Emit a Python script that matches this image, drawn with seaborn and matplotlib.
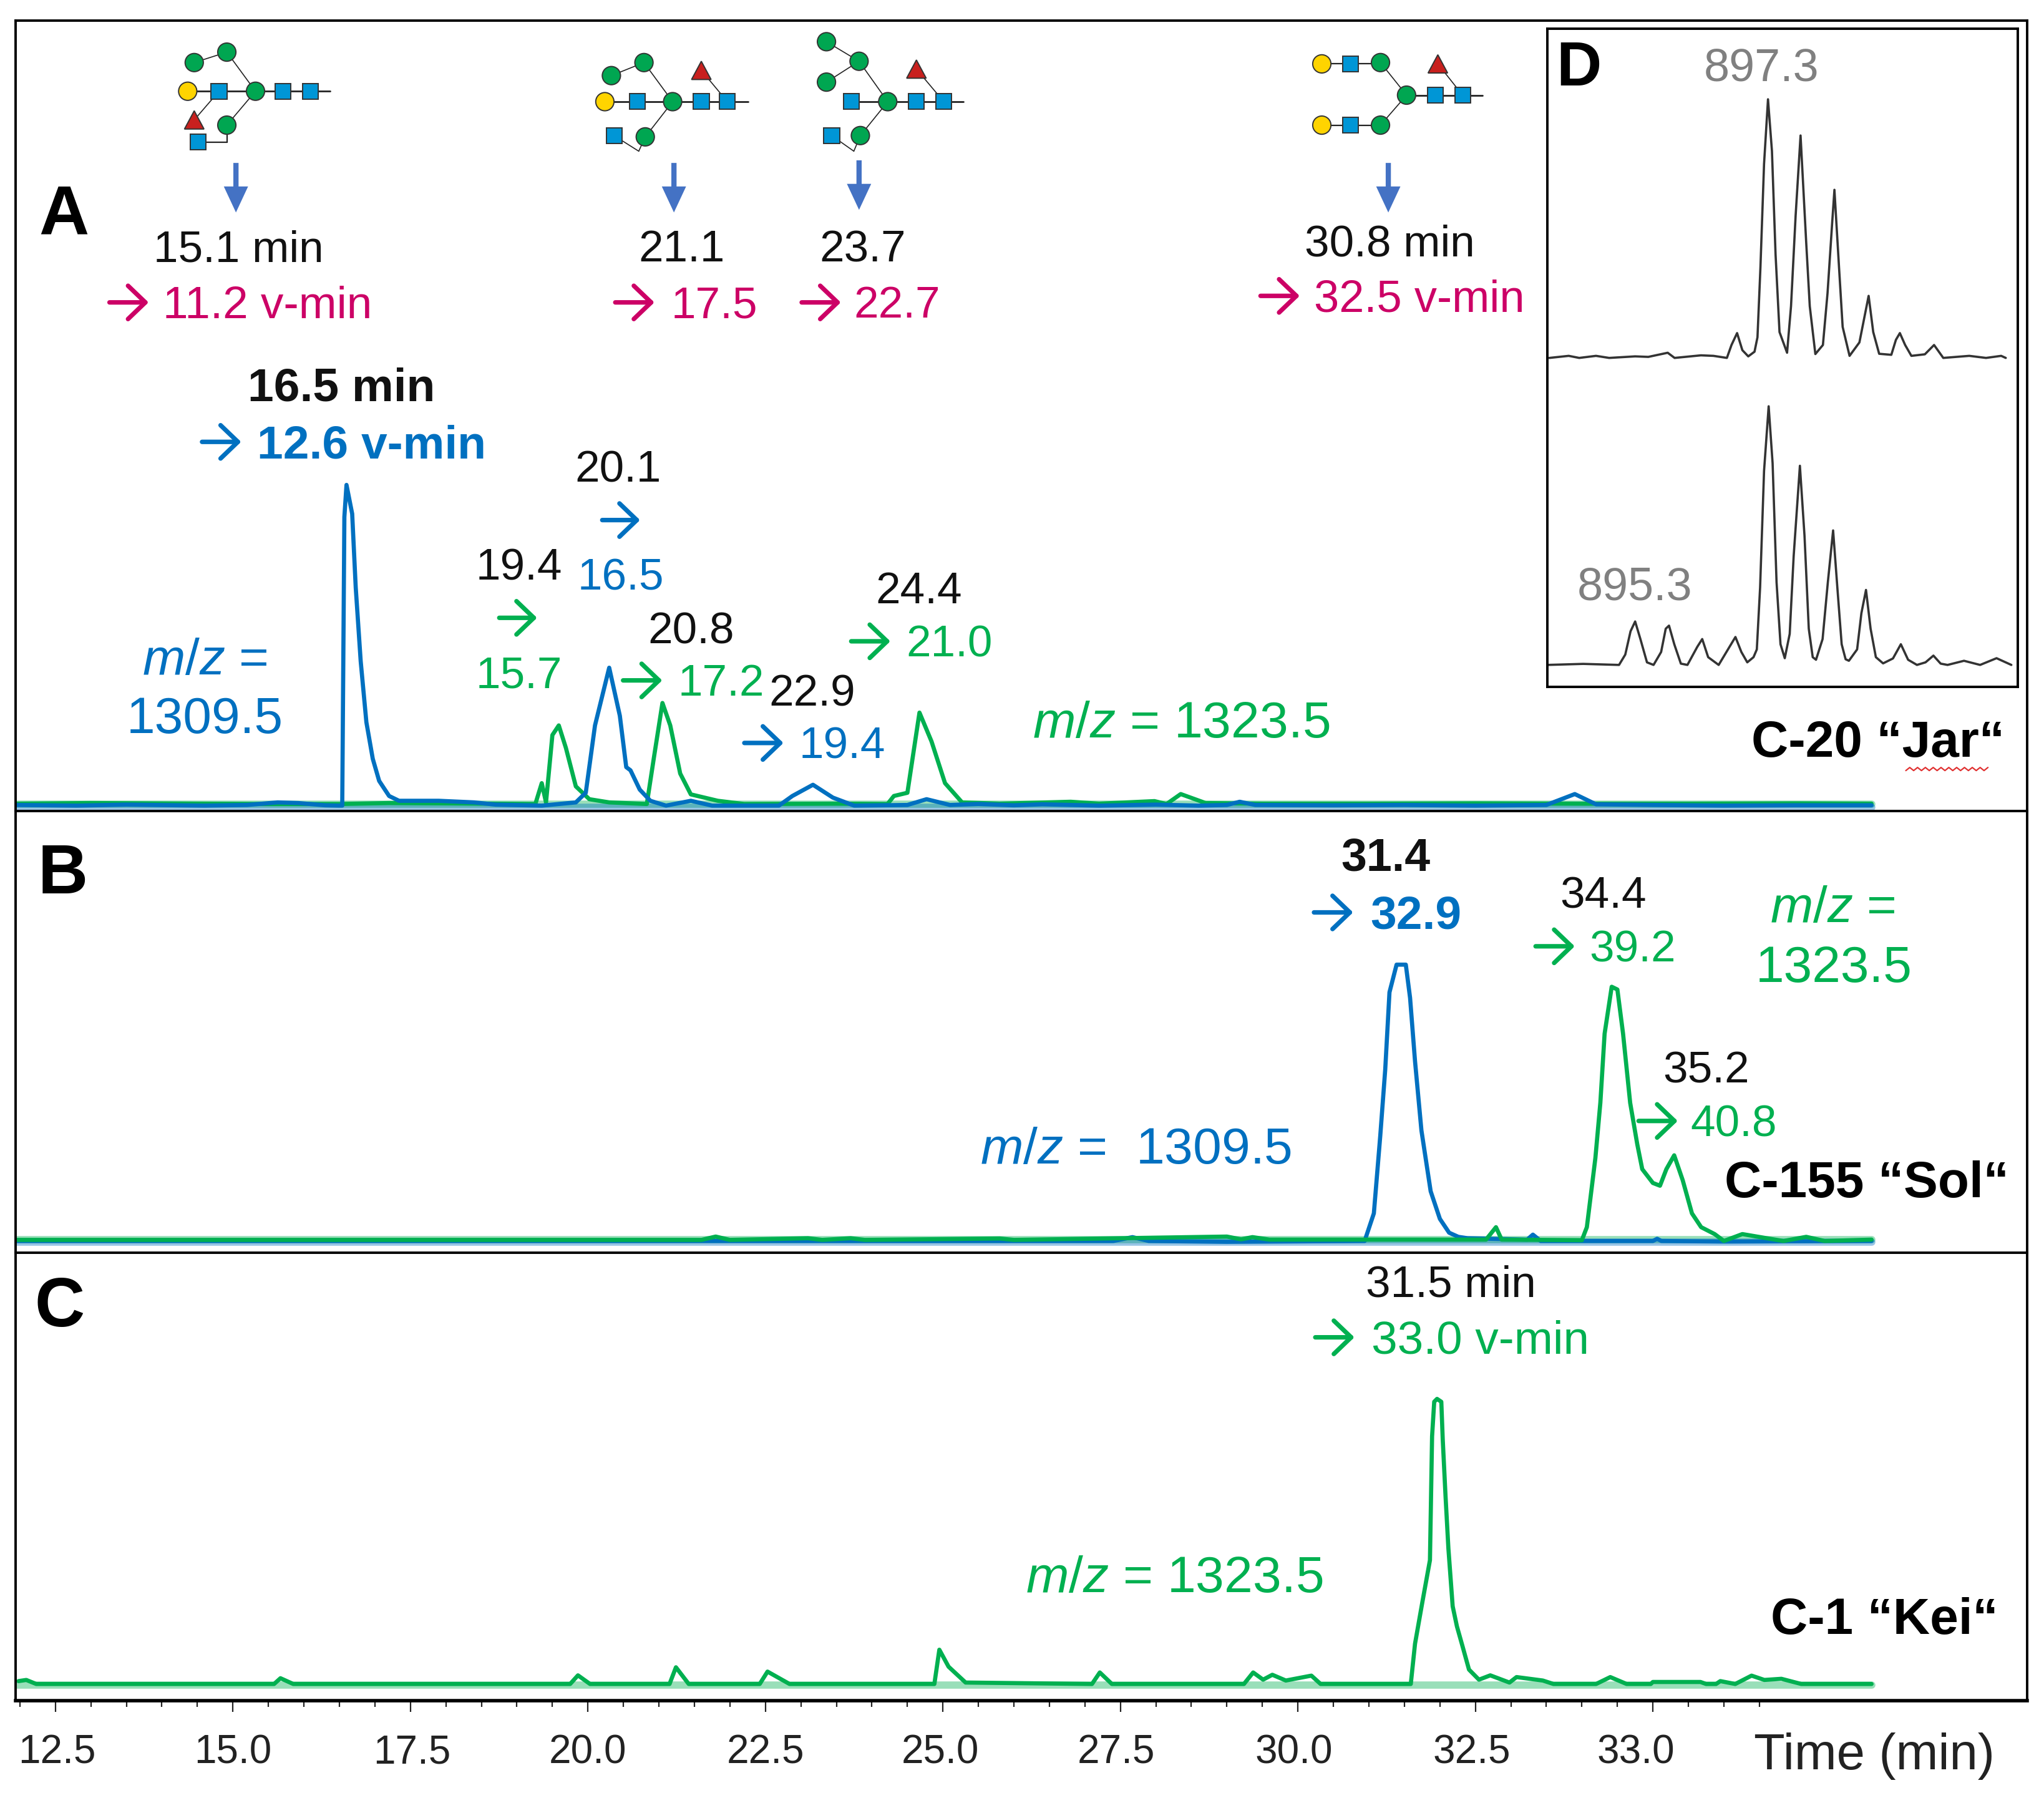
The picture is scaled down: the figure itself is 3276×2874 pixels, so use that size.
import numpy as np
import matplotlib
matplotlib.use("Agg")
import matplotlib.pyplot as plt
from matplotlib.patches import Circle, Rectangle, Polygon
from matplotlib.lines import Line2D
from matplotlib.transforms import ScaledTranslation
import seaborn as sns

# ---------- data ----------
a_blue_t = [11.95,12.8,13.5,14.6,15.2,15.63,15.92,16.3,16.49,16.54,16.57,16.6,16.68,16.73,16.8,16.88,16.97,17.06,17.2,17.34,17.9,18.4,18.7,19.35,19.83,19.97,20.1,20.3,20.45,20.54,20.6,20.73,20.88,21.1,21.45,21.75,22.69,22.88,23.17,23.45,23.75,24.5,24.77,25.1,25.5,26.0,26.4,27.2,28.0,28.6,29.0,29.18,29.4,30.5,31.5,32.5,33.5,33.9,34.2,35.0,36.0,37.0,38.08]
a_blue_y = [0.2,0.0,0.3,0.0,0.2,1.0,0.8,0.1,0.0,0.0,90,100,91,68,45,26,14.6,7.7,3,1.5,1.5,1.0,0.3,0.0,1.0,4,25,43,28,12,11,5,1.5,0.0,1.5,0.0,0.0,3,6.5,2.5,0.0,0.2,2,0.2,0.5,0.1,0.4,0.0,0.3,0.0,0.2,1.2,0.2,0.1,0.2,0.0,0.2,3.6,0.4,0.2,0.0,0.1,0.1]
a_green_t = [11.95,13.0,14.5,15.5,16.5,17.2,18.0,19.26,19.35,19.41,19.5,19.59,19.69,19.83,20.02,20.3,20.83,20.93,21.05,21.16,21.3,21.45,21.83,22.2,23.5,24.22,24.31,24.5,24.67,24.84,25.03,25.27,25.8,26.8,27.2,27.98,28.15,28.35,28.7,29.5,31.0,32.5,34.0,35.5,37.0,38.08]
a_green_y = [0.6,0.8,0.6,0.5,0.5,0.8,0.7,0.5,7,1,22,25,18,6,2,1,0.5,15,32,25,10,3.5,1.5,0.5,0.6,0.5,3,4,29,20,7,1,0.6,1.2,0.6,1.4,0.5,3.6,0.8,0.6,0.6,0.7,0.6,0.6,0.7,0.6]
b_blue_t = [11.95,16.0,20.0,24.0,27.4,27.67,27.9,29.0,30.94,31.07,31.16,31.23,31.29,31.39,31.52,31.58,31.65,31.74,31.87,32.0,32.13,32.26,32.39,33.23,33.31,33.42,35.0,35.06,35.12,36.0,38.08]
b_blue_y = [0.0,0.0,0.0,0.0,0.0,1.4,0.0,-0.3,0.0,10,38,62,90,100,100,88,65,40,18,8,3,1.5,1,0.5,2.3,0.0,0.0,0.8,0.0,-0.2,0.0]
b_green_t = [11.95,16.0,21.6,21.8,22.0,23.1,23.3,23.7,23.9,25.8,26.0,29.0,29.2,29.36,29.6,30.5,32.65,32.79,32.87,34.0,34.07,34.19,34.26,34.32,34.42,34.5,34.58,34.68,34.78,34.85,35.0,35.1,35.19,35.3,35.42,35.55,35.68,35.87,36.0,36.26,36.65,36.84,37.16,37.42,38.08]
b_green_y = [0.4,0.4,0.4,1.6,0.4,1.0,0.4,1.0,0.4,0.9,0.4,1.6,0.6,1.4,0.5,0.5,0.5,5,0.5,0.3,5,30,50,75,92,91,75,50,35,26,21,20,26,31,22,10,5,2.5,0,2.5,0.8,0,1.5,0,0.5]
c_green_t = [11.98,12.09,12.23,15.58,15.67,15.85,19.75,19.86,20.03,21.15,21.24,21.42,22.42,22.53,22.84,24.88,24.95,25.08,25.32,27.1,27.21,27.38,29.24,29.37,29.51,29.64,29.83,30.19,30.32,31.59,31.65,31.75,31.86,31.89,31.92,31.96,32.02,32.04,32.08,32.12,32.18,32.24,32.32,32.41,32.55,32.71,32.98,33.08,33.45,33.6,34.2,34.4,34.63,34.97,35.0,35.67,35.75,35.89,35.95,36.16,36.39,36.57,36.81,37.09,38.08]
c_green_y = [1.0,1.4,0.0,0.0,2.0,0.0,0.0,3,0.0,0.0,5.8,0.0,0.0,4.3,0.0,0.0,11.9,6,0.5,0.0,4,0.0,0.0,4,1.5,3.2,1.2,2.9,0.0,0.0,14,28,43,86,98,99,98,85,65,47,27,20,13,5,1.5,3,0.5,2.4,1.2,0,0,2.4,0,0,0.7,0.7,0,0,1.0,0,2.9,1.4,1.8,0,0]
d_top_mz = [890.69,891.28,891.6,892.11,892.51,893.30,893.7,894.29,894.5,895.3,895.68,896.09,896.23,896.4,896.56,896.74,896.93,897.02,897.11,897.22,897.34,897.46,897.57,897.69,897.92,898.04,898.18,898.33,898.5,898.61,898.78,899.01,899.15,899.29,899.36,899.5,899.61,899.82,900.12,900.26,900.4,900.54,900.72,901.09,901.23,901.35,901.51,901.7,902.11,902.39,902.67,903.46,903.97,904.43,904.57]
d_top_y = [0,0.8,0,0.8,0,0.6,0.4,2,0,1,0.8,0,5,9.6,3,0.6,2.4,8,35,75,100,80,40,10,2,20,55,86,45,20,1.5,5,25,52,65,35,12,0.8,6,15,24,10,1.6,1.2,7,9.6,5,0.8,1.4,5,0,0.8,0,0.8,0]
d_bot_mz = [890.63,891.72,892.81,893.0,893.16,893.3,893.46,893.66,893.86,894.09,894.23,894.33,894.49,894.69,894.89,895.19,895.34,895.52,895.84,896.17,896.35,896.53,896.71,896.9,897.0,897.1,897.22,897.36,897.48,897.6,897.72,897.85,898.0,898.12,898.31,898.45,898.58,898.7,898.8,899.0,899.16,899.32,899.46,899.58,899.7,899.8,900.05,900.18,900.32,900.46,900.62,900.84,901.14,901.38,901.6,901.87,902.13,902.37,902.59,902.8,903.3,903.79,904.29,904.74]
d_bot_y = [0,0.4,0,4,13,16.8,10,1,0,5,14,15.2,8,0.5,0,7,10,3,0,7,10.8,5,1,3,6,30,75,100,78,32,8,2.6,12,42,77,50,14,3,2,10,32,52,28,8,2.2,1.6,6,20,29,14,3,0.6,2.5,8,2,0,1,3.6,0.5,0,1.6,0,2.6,0]
band_t = [11.95, 38.08]
major_ticks = [12.5,15.0,17.5,20.0,22.5,25.0,27.5,30.0,32.5,35.0]
tick_labels = ["12.5","15.0","17.5","20.0","22.5","25.0","27.5","30.0","32.5","33.0"]
minor_ticks = [12.0,13.0,13.5,14.0,14.5,15.5,16.0,16.5,17.0,18.0,18.5,19.0,19.5,20.5,21.0,21.5,22.0,23.0,23.5,24.0,24.5,25.5,26.0,26.5,27.0,28.0,28.5,29.0,29.5,30.5,31.0,31.5,32.0,33.0,33.5,34.0,34.5,35.5,36.0,36.5]

# ---------- style ----------
sns.set_theme(style="white")
plt.rcParams["font.family"] = ["Liberation Sans", "DejaVu Sans"]
plt.rcParams.update({"mathtext.fontset": "custom", "mathtext.it": "Liberation Sans:italic",
                     "mathtext.rm": "Liberation Sans", "mathtext.bf": "Liberation Sans:bold",
                     "mathtext.default": "regular"})
BLUE, GREEN, MAG, BLACK = "#0070C0", "#00B050", "#CC0066", "#111111"
W, H = 1568.0, 1375.6
fig = plt.figure(figsize=(16.38, 14.37), dpi=200, facecolor="white")

def box(l, t, r, b):
    return [l / W, 1 - b / H, (r - l) / W, (b - t) / H]

xlim = (11.94, 40.27)
axA = fig.add_axes(box(12, 16, 1555, 622))
axB = fig.add_axes(box(12, 622, 1555, 961))
axC = fig.add_axes(box(12, 961, 1555, 1305))
LW = 2.4

def trace(ax, t, y, c):
    sns.lineplot(x=t, y=y, ax=ax, color=c, lw=LW, estimator=None)

def band(ax, level, c):
    sns.lineplot(x=band_t, y=[level, level], ax=ax, color=c, lw=4.2, alpha=0.4, estimator=None)

band(axA, 0.5, GREEN); band(axA, -0.5, BLUE)
band(axB, 0.4, GREEN); band(axB, -0.4, BLUE)
band(axC, -0.3, GREEN)
trace(axA, a_green_t, a_green_y, GREEN)
trace(axA, a_blue_t, a_blue_y, BLUE)
trace(axB, b_blue_t, b_blue_y, BLUE)
trace(axB, b_green_t, b_green_y, GREEN)
trace(axC, c_green_t, c_green_y, GREEN)
axA.set_ylim(-1.6, 244.7)
axB.set_ylim(-4.2, 155.7)
axC.set_ylim(-5.9, 149.8)
for ax in (axA, axB, axC):
    ax.set_xlim(*xlim)
    ax.set_yticks([])
    ax.set_ylabel("")
    for s in ax.spines.values():
        s.set_visible(True)
        s.set_color("black")
        s.set_linewidth(1.4)
    if ax is not axC:
        ax.set_xticks([])
axC.spines["bottom"].set_linewidth(2.0)
axC.set_xticks(major_ticks)
axC.set_xticklabels(tick_labels, fontsize=23, color="#222222")
axC.set_xticks(minor_ticks, minor=True)
axC.tick_params(axis="x", which="major", length=6.6, width=0.8, bottom=True, pad=12.5, color="#222222")
axC.tick_params(axis="x", which="minor", length=3.6, width=0.8, bottom=True, color="#222222")
for lab, dx in zip(axC.get_xticklabels(), [1, 0, 1, 0, 0, -2, -3, -3, -3, -13]):
    lab.set_transform(lab.get_transform() + ScaledTranslation(dx * 0.752 / 72, 0, fig.dpi_scale_trans))

# inset D
axD = fig.add_axes(box(1187, 22, 1548, 527), zorder=3)
TOP_OFFSET = 118.7
sns.lineplot(x=d_top_mz, y=[v + TOP_OFFSET for v in d_top_y], ax=axD, color="#333333", lw=1.3, estimator=None)
sns.lineplot(x=d_bot_mz, y=d_bot_y, ax=axD, color="#333333", lw=1.3, estimator=None)
axD.set_xlim(890.63, 904.94)
axD.set_ylim(-8.5, 246)
axD.set_xticks([]); axD.set_yticks([])
for s in axD.spines.values():
    s.set_visible(True); s.set_color("black"); s.set_linewidth(1.4)

# ---------- overlay in picture coordinates ----------
ov = fig.add_axes([0, 0, 1, 1], zorder=5)
ov.set_xlim(0, W); ov.set_ylim(H, 0); ov.axis("off"); ov.patch.set_alpha(0)

def T(x, y, s, c=BLACK, size=25.6, ha="center", **kw):
    cap = size / 0.752 * 0.716 / 2
    ov.text(x, y + cap - 1.5, s, color=c, fontsize=size, ha=ha, va="baseline", **kw)

def AR(x0, x1, y, c):
    ov.annotate("", xy=(x1, y), xytext=(x0, y),
                arrowprops=dict(arrowstyle="->,head_length=0.5,head_width=0.48", mutation_scale=20,
                                color=c, lw=2.6, shrinkA=0, shrinkB=0))

def DOWN(x, y0, y1):
    ov.annotate("", xy=(x, y1), xytext=(x, y0),
                arrowprops=dict(width=3, headwidth=14, headlength=15, color="#4472C4", shrinkA=0, shrinkB=0, lw=0))

for x, y, s in [(183, 190, "15.1 min"), (523, 190, "21.1"), (662, 190, "23.7"), (1066, 186, "30.8 min"),
                (474, 359, "20.1"), (398, 434, "19.4"), (530, 483, "20.8"), (623, 531, "22.9"), (705, 452, "24.4"),
                (1230, 686, "34.4"), (1309, 820, "35.2"), (1113, 984, "31.5 min")]:
    T(x, y, s)
T(262, 296, "16.5 min", size=27, weight="bold")
T(1063, 657, "31.4", size=26.5, weight="bold")
for x0, y, tx, s, c, kw in [(84, 232, 125, "11.2 v-min", MAG, {"size": 26.3}), (472, 232, 515, "17.5", MAG, {}),
                            (615, 232, 655, "22.7", MAG, {}), (967, 227, 1008, "32.5 v-min", MAG, {"size": 26}),
                            (155, 339, 197, "12.6 v-min", BLUE, {"weight": "bold", "size": 27}),
                            (478, 522, 520, "17.2", GREEN, {}), (571, 570, 613, "19.4", BLUE, {}),
                            (653, 492, 695, "21.0", GREEN, {}), (1008, 700, 1051, "32.9", BLUE, {"weight": "bold", "size": 27}),
                            (1178, 726, 1219, "39.2", GREEN, {}), (1257, 860, 1297, "40.8", GREEN, {}),
                            (1009, 1026, 1052, "33.0 v-min", GREEN, {"size": 26.9})]:
    AR(x0, x0 + 30, y, c)
    T(tx, y + 1, s, c, ha="left", **kw)
AR(462, 491, 399, BLUE); T(476, 442, "16.5", BLUE)
AR(383, 412, 474, GREEN); T(398, 517, "15.7", GREEN)

MZ = r"$\mathit{m/z}$"
T(157, 505, MZ + " =", BLUE, 29.5)
T(157, 550, "1309.5", BLUE, 29.5)
T(792, 553, MZ + " = 1323.5", GREEN, 29.6, ha="left")
T(1406, 695, MZ + " =", GREEN, 29.5)
T(1407, 741, "1323.5", GREEN, 29.5)
T(752, 880, MZ + " =  1309.5", BLUE, 29.6, ha="left")
T(787, 1209, MZ + " = 1323.5", GREEN, 29.6, ha="left")
T(1538, 568, "C-20 “Jar“", "black", 29.5, ha="right", weight="bold")
T(1541, 906, "C-155 “Sol“", "black", 29.5, ha="right", weight="bold")
T(1533, 1241, "C-1 “Kei“", "black", 29.5, ha="right", weight="bold")
T(1438, 1345, "Time (min)", "#222222", 29.3)
for x, y, s in [(49, 162, "A"), (48, 668, "B"), (46, 1000, "C")]:
    T(x, y, s, "black", 40, weight="bold")
T(1211, 50, "D", "black", 36, weight="bold")
T(1351, 51, "897.3", "#808080", 26.5)
T(1254, 449, "895.3", "#808080", 26.5)

# spell-check squiggle below Jar
zx = np.arange(1462, 1526, 3.0)
ov.add_line(Line2D(zx, 590 + 1.2 * (-1.0) ** np.arange(len(zx)), color="#E03030", lw=0.8))

# glycan cartoons
GC, YC, SC, RC = "#00A651", "#FFD400", "#0096D6", "#C8201E"
def gly(circles, yellows, squares, tris, links):
    for (x0, y0, x1, y1, lw) in links:
        ov.add_line(Line2D([x0, x1], [y0, y1], color="#222222", lw=lw, zorder=6))
    for x, y in circles:
        ov.add_patch(Circle((x, y), 7, fc=GC, ec="#333333", lw=0.7, zorder=7))
    for x, y in yellows:
        ov.add_patch(Circle((x, y), 7, fc=YC, ec="#333333", lw=0.7, zorder=7))
    for x, y in squares:
        ov.add_patch(Rectangle((x - 6, y - 6), 12, 12, fc=SC, ec="#333333", lw=0.7, zorder=7))
    for x, y in tris:
        ov.add_patch(Polygon([(x - 7.5, y + 7), (x + 7.5, y + 7), (x, y - 7)], fc=RC, ec="#333333", lw=0.7, zorder=7))

gly([(149, 48), (174, 40), (196, 70), (174, 96)], [(144, 70)], [(168, 70), (217, 70), (238, 70), (152, 109)], [(149, 92)],
    [(144, 70, 253, 70, 1.0), (149, 48, 174, 40, 0.6), (174, 40, 196, 70, 0.6), (196, 70, 174, 96, 0.6),
     (174, 96, 174, 109, 0.8), (174, 109, 152, 109, 0.8), (168, 70, 149, 92, 0.6)])
gly([(469, 58), (494, 48), (516, 78), (495, 105)], [(464, 78)], [(489, 78), (538, 78), (558, 78), (471, 104)], [(538, 54)],
    [(464, 78, 574, 78, 1.0), (469, 58, 494, 48, 0.6), (494, 48, 516, 78, 0.6), (516, 78, 495, 105, 0.6),
     (471, 104, 490, 116, 0.6), (490, 116, 495, 105, 0.6), (538, 54, 558, 78, 0.6)])
gly([(634, 32), (659, 47), (634, 63), (681, 78), (660, 104)], [], [(653, 78), (703, 78), (724, 78), (638, 104)], [(703, 53)],
    [(653, 78, 739, 78, 1.0), (634, 32, 659, 47, 0.6), (634, 63, 659, 47, 0.6), (659, 47, 681, 78, 0.6),
     (681, 78, 660, 104, 0.6), (638, 104, 655, 116, 0.6), (655, 116, 660, 104, 0.6), (703, 53, 724, 78, 0.6)])
gly([(1059, 48), (1079, 73), (1059, 96)], [(1014, 49), (1014, 96)], [(1036, 49), (1101, 73), (1122, 73), (1036, 96)], [(1103, 49)],
    [(1014, 49, 1059, 49, 0.8), (1014, 96, 1059, 96, 0.8), (1059, 48, 1079, 73, 0.6), (1059, 96, 1079, 73, 0.6),
     (1079, 73, 1137, 73, 1.0), (1103, 49, 1122, 73, 0.6)])
DOWN(181, 125, 163); DOWN(517, 125, 163); DOWN(659, 123, 161); DOWN(1065, 125, 163)

fig.savefig("out.png", dpi=200)
